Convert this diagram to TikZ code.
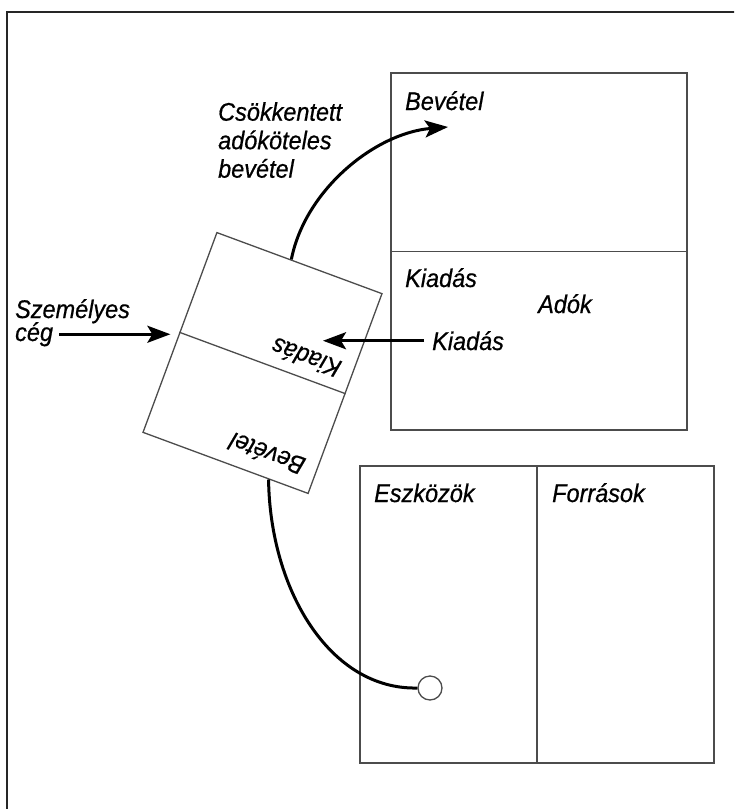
\documentclass[tikz,border=0pt]{standalone}
\usepackage{fontspec}
\setmainfont{Liberation Sans}
\newfontfamily\lblfont{Liberation Sans Italic}[FakeStretch=0.92, FakeBold=0.6]
\usetikzlibrary{arrows.meta, positioning, calc}

\begin{document}
\begin{tikzpicture}[
    x=1pt, y=-1pt,
    box/.style={draw=black!70, line width=1.3pt},
    lbl/.style={font=\lblfont\fontsize{25.5}{28.5}\selectfont, inner sep=0pt},
    flow/.style={line width=3pt},
    >={Stealth[length=23pt, width=17pt, inset=5pt]}
  ]
  \clip (0,0) rectangle (734,809);
  \fill[white] (0,0) rectangle (734,809);
  \draw[line width=2pt, black!85] (7,830) |- (760,12);

  % income statement
  \node[box, minimum width=296pt, minimum height=357pt] (eredm) at (539,251.5) {};
  \draw[box] (eredm.west) -- (eredm.east);
  \node[lbl, anchor=base west] (eBev) at (405,110) {Bevétel};
  \node[lbl, anchor=base west] (eKi) at (405,287) {Kiadás};
  \node[lbl, anchor=base west] (eAdo) at (538,313) {Adók};

  % balance sheet
  \node[box, minimum width=354pt, minimum height=297pt] (merleg) at (537,614.5) {};
  \draw[box] (merleg.north) -- (merleg.south);
  \node[lbl, anchor=base west] (mEsz) at (374,502) {Eszközök};
  \node[lbl, anchor=base west] (mFor) at (552,502) {Források};

  % the company, turned round
  \node[box, rotate=-20.3, minimum width=176pt, minimum height=213pt] (ceg) at (262.5,363) {};
  \draw[box] (ceg.west) -- (ceg.east);
  \node[lbl, rotate=159.7] (cegKi) at (306,358) {Kiadás};
  \node[lbl, rotate=159.7] (cegBev) at (267,454) {Bevétel};

  \node[lbl, anchor=base west] (szem) at (15,318) {Személyes};
  \node[lbl, anchor=base west] (szemCeg) at (15,341) {cég};
  \draw[flow, ->, shorten <=6pt, shorten >=9pt] (szemCeg.east) -- (szemCeg.east -| ceg.west);

  \node[lbl, anchor=base west] (kiadLbl) at (432,350) {Kiadás};
  \coordinate (kiadTip) at (323,339);
  \draw[flow, ->, shorten <=8pt] (kiadLbl.west) -- (kiadLbl.west -| kiadTip);

  \node[lbl, anchor=north west, align=left] (csokk) at (218,102)
    {Csökkentett\\adóköteles\\bevétel};
  \coordinate (revTip) at (448,127);
  \draw[flow, ->] ($(ceg.north west)!0.45!(ceg.north east)$)
    .. controls (305,190) and (375,133) .. (revTip);

  \node[box, circle, minimum size=24pt, inner sep=0pt, fill=white] (dot) at (430,688) {};
  \draw[flow] ($(ceg.south west)!0.76!(ceg.south east)$)
    .. controls (270,590) and (330,690) .. (dot.west);
\end{tikzpicture}
\end{document}
